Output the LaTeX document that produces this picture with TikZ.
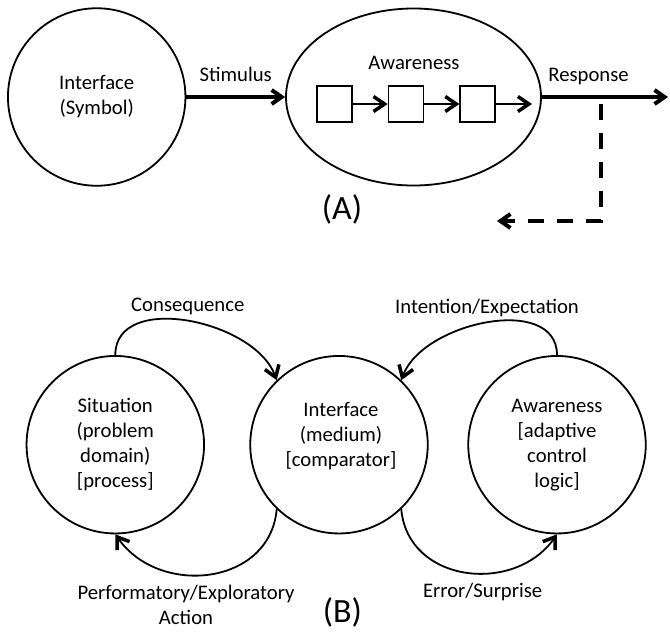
\documentclass[tikz,border=0pt]{standalone}
\usepackage{fontspec}
\setmainfont{Carlito}
\usetikzlibrary{positioning,calc}
\usetikzlibrary{arrows.meta}
\usetikzlibrary{shapes.geometric}
\tikzset{
   bubble/.style={circle, draw, line width=1.8pt, minimum size=177.5pt,
      inner sep=0pt, align=center},
   oval/.style={ellipse, draw, line width=1.8pt, minimum width=255pt,
      minimum height=177pt},
   cell/.style={rectangle, draw, line width=1.8pt, minimum width=35pt,
      minimum height=36pt, inner sep=0pt},
   thickarrow/.style={line width=4pt,
      -{Straight Barb[length=10pt,width=14pt,line width=4pt]}},
   thinarrow/.style={line width=1.8pt,
      -{Straight Barb[length=11pt,width=15pt,line width=3.5pt]}},
   feedback/.style={thickarrow, dash pattern=on 16pt off 13pt},
   tag/.style={font=\fontsize{34pt}{40pt}\selectfont}
}

\begin{document}
\begin{tikzpicture}[x=1pt, y=1pt, font=\fontsize{20.7pt}{25pt}\selectfont]
      \useasboundingbox (0,0) rectangle (670,-635);

      \node[bubble] (sym) at (96.7,-97) {Interface\\(Symbol)};
      \node[oval] (aw) at (413.5,-97) {};
      \node (awt) at (414,-63) {Awareness};
      \node[cell] (r1) at (334.2,-104) {};
      \node[cell, right=35pt of r1] (r2) {};
      \node[cell, right=35pt of r2] (r3) {};
      \coordinate (r4) at (532,-104);
      \coordinate (out) at (668,-97);
      \coordinate (tap) at (601,-104);
      \coordinate (back) at (497,-221);
      \node[tag] (ta) at (342,-209) {(A)};

      \draw[thickarrow] (sym.east) -- node[above=10pt] {Stimulus} (aw.west);
      \draw[thickarrow] (aw.east) -- node[pos=0.37, above=6.5pt] {Response} (out);
      \draw[feedback] (tap) |- (back);
      \draw[thinarrow] (r1) -- (r2);
      \draw[thinarrow] (r2) -- (r3);
      \draw[thinarrow] (r3) -- (r4);

      \node[bubble] (sit) at (115.3,-444.7) {Situation\\(problem\\domain)\\{}[process]};
      \node[bubble] (med) at (339,-444.7) {};
      \node[align=center] (medt) at (341,-436) {Interface\\(medium)\\{}[comparator]};
      \node[bubble] (ctl) at (557,-444.7) {Awareness\\{}[adaptive\\control\\logic]};
      \node[tag] (tb) at (342.5,-612) {(B)};

      \draw[thinarrow] (sit.north) to[out=90, in=110]
         node[above=2.5pt] {Consequence} (med.134);
      \draw[thinarrow] (ctl.north) to[out=90, in=70]
         node[above=1.5pt] {Intention/Expectation} (med.46);
      \draw[thinarrow] (med.226) to[out=-95, in=-55, looseness=1.2]
         node[below=7pt, xshift=-24pt, align=center] {Performatory/Exploratory\\Action} (sit.south);
      \draw[thinarrow] (med.314) to[out=-85, in=-125, looseness=1.2]
         node[below=7pt, xshift=17pt] {Error/Surprise} (ctl.south);
   \end{tikzpicture}
\end{document}
